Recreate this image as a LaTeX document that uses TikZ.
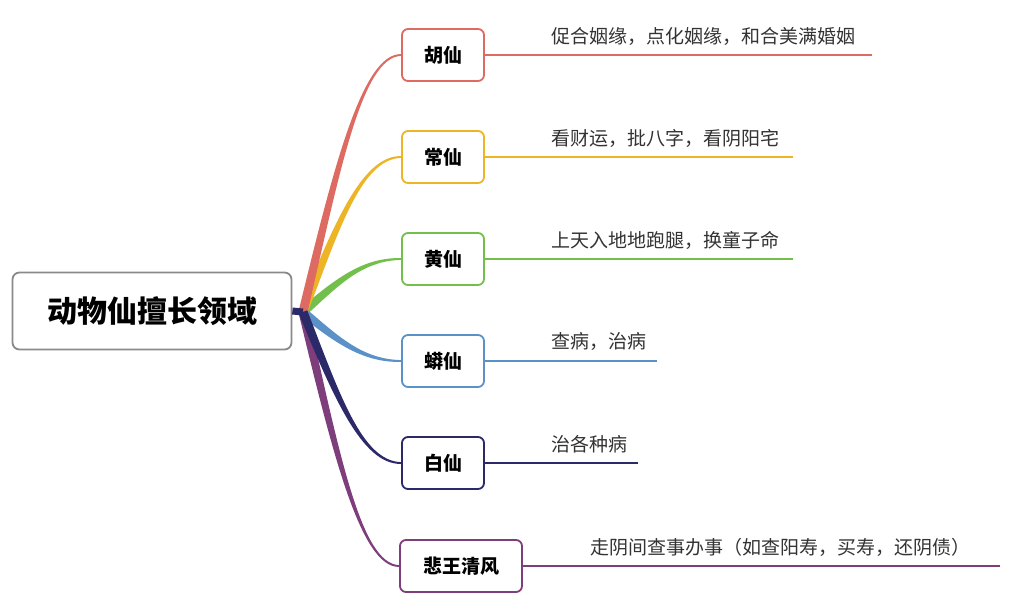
\documentclass[tikz,border=0pt]{standalone}
\usepackage{fontspec}
\setmainfont{Noto Sans CJK SC}
\usetikzlibrary{calc}
\definecolor{cRed}{HTML}{DE6B62}
\definecolor{cOrange}{HTML}{EDB526}
\definecolor{cGreen}{HTML}{72BF4C}
\definecolor{cBlue}{HTML}{5A92C8}
\definecolor{cNavy}{HTML}{2C2968}
\definecolor{cPurple}{HTML}{7E3D7B}
\definecolor{cGrey}{HTML}{8A8A8A}
\newcommand\mmbranch[2]{%
  \coordinate (P0) at (hub);
  \coordinate (P3) at (#2.west);
  \coordinate (qa) at ($(P0)!0.34!(P3)$);
  \coordinate (qb) at ($(P0)!0.55!(P3)$);
  \coordinate (qc) at ($(P0)!0.6!(P3)$);
  \coordinate (P1) at (qa |- qb);
  \coordinate (P2) at (qc |- P3);
  \coordinate (S1) at ($(P0)!4.5pt!90:(P1)$);
  \coordinate (S2) at ($(P0)!4.5pt!-90:(P1)$);
  \coordinate (T1) at ($(P1)!3.5pt!90:(P2)$);
  \coordinate (T2) at ($(P1)!3.5pt!-90:(P2)$);
  \fill[#1] (S1) .. controls (T1) and ($(P2)+(0pt,1.8pt)$) .. ($(P3)+(0pt,0.9pt)$)
    -- ($(P3)+(0pt,-0.9pt)$) .. controls ($(P2)+(0pt,-1.8pt)$) and (T2) .. (S2) -- cycle;
}
\begin{document}
\begin{tikzpicture}[x=1pt,y=-1pt,
  box/.style={draw=#1, line width=1.8pt, rounded corners=6pt, fill=white,
    minimum width=82pt, minimum height=52pt, inner sep=0pt,
    font=\fontsize{19}{19}\selectfont\bfseries},
  rootbox/.style={draw=cGrey, line width=1.8pt, rounded corners=7pt, fill=white,
    minimum width=279pt, minimum height=77pt, inner sep=0pt,
    font=\fontsize{30}{30}\selectfont\bfseries},
  desc/.style={anchor=west, inner sep=0pt, text=black!80,
    font=\fontsize{19}{19}\selectfont},
  leaf/.style={draw=#1, line width=1.5pt}]
\useasboundingbox (0,0) rectangle (1015,613);
\fill[white] (0,0) rectangle (1015,613);

\node[rootbox] (root) at (152,311) {动物仙擅长领域};
\coordinate (hub) at (303,312);

\node[box=cRed] (hu) at (443,55) {胡仙};
\node[box=cOrange] (chang) at (443,157) {常仙};
\node[box=cGreen] (huang) at (443,259) {黄仙};
\node[box=cBlue] (mang) at (443,361) {蟒仙};
\node[box=cNavy] (bai) at (443,463) {白仙};
\node[box=cPurple, minimum width=122pt] (bei) at (461,566) {悲王清风};

\mmbranch{cGreen}{huang}
\mmbranch{cBlue}{mang}
\mmbranch{cOrange}{chang}
\mmbranch{cRed}{hu}
\mmbranch{cPurple}{bei}
\mmbranch{cNavy}{bai}
\draw[cNavy, line width=7pt] (root.east) -- (hub);

\coordinate (hu-end) at (872,55);
\coordinate (chang-end) at (793,157);
\coordinate (huang-end) at (793,259);
\coordinate (mang-end) at (657,361);
\coordinate (bai-end) at (638,463);
\coordinate (bei-end) at (1000,566);
\draw[leaf=cRed] (hu.east) -- (hu-end);
\draw[leaf=cOrange] (chang.east) -- (chang-end);
\draw[leaf=cGreen] (huang.east) -- (huang-end);
\draw[leaf=cBlue] (mang.east) -- (mang-end);
\draw[leaf=cNavy] (bai.east) -- (bai-end);
\draw[leaf=cPurple] (bei.east) -- (bei-end);

\node[desc] (t1) at (551,36) {促合姻缘，点化姻缘，和合美满婚姻};
\node[desc] (t2) at (551,138) {看财运，批八字，看阴阳宅};
\node[desc] (t3) at (551,240) {上天入地地跑腿，换童子命};
\node[desc] (t4) at (551,342) {查病，治病};
\node[desc] (t5) at (551,444) {治各种病};
\node[desc] (t6) at (590,547) {走阴间查事办事（如查阳寿，买寿，还阴债）};
\end{tikzpicture}
\end{document}
